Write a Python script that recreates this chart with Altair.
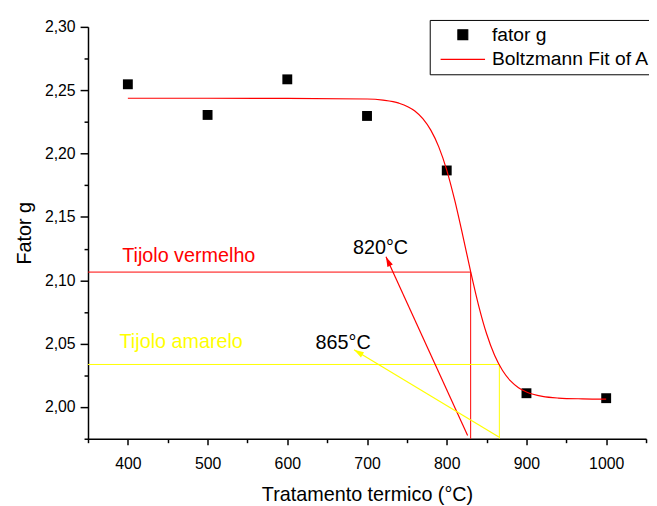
import math
import altair as alt
import pandas as pd

# measured data points
temps = [400, 500, 600, 700, 800, 900, 1000]
fator_g = [2.2547, 2.2305, 2.2586, 2.2297, 2.1867, 2.0109, 2.0070]

# Boltzmann fit curve
fit_x = [400, 500, 600, 700, 720, 740, 760, 770, 780, 790, 800, 810, 820,
         830, 840, 850, 860, 870, 880, 890, 900, 920, 940, 970, 1000]
fit_y = [2.2437, 2.2437, 2.2436, 2.2431, 2.2422, 2.2398, 2.2336, 2.2276,
         2.2185, 2.2053, 2.1870, 2.1632, 2.1357, 2.1069, 2.0801, 2.0578,
         2.0408, 2.0288, 2.0206, 2.0153, 2.0119, 2.0084, 2.0071, 2.0065, 2.0063]

series_names = ["fator g", "Boltzmann Fit of A"]

# guide lines (horizontal + vertical drop lines)
guide_x = [350, 830, 350, 866]
guide_x2 = [830, 830, 866, 866]
guide_y = [2.1065, 1.975, 2.0336, 1.975]
guide_y2 = [2.1065, 2.1065, 2.0336, 2.0336]
guide_col = ["#ff0000", "#ff0000", "#ffff00", "#ffff00"]

# arrows: start (tail) and end (head)
arrow_x = [826.2, 865.4]
arrow_y = [1.9776, 1.9763]
arrow_x2 = [723.8, 683.7]
arrow_y2 = [2.1186, 2.0452]
arrow_col = ["#ff0000", "#ffff00"]

# annotation texts
ann_text = ["Tijolo vermelho", "Tijolo amarelo", "820°C", "865°C"]
ann_x = [476.4, 466.9, 717.0, 670.0]
ann_y = [2.1148, 2.0465, 2.1205, 2.0459]
ann_col = ["#ff0000", "#ffff00", "#000000", "#000000"]

# axis ticks
x_major = [400, 500, 600, 700, 800, 900, 1000]
x_minor = [350, 450, 550, 650, 750, 850, 950, 1050]
y_major = [2.00, 2.05, 2.10, 2.15, 2.20, 2.25, 2.30]
y_minor = [1.975, 2.025, 2.075, 2.125, 2.175, 2.225, 2.275]

X_DOM = [350, 1050]
Y_DOM = [1.975, 2.30]
W, H = 565, 417
FONT = "Liberation Sans"

px_x = W / (X_DOM[1] - X_DOM[0])
px_y = H / (Y_DOM[1] - Y_DOM[0])
arrow_angle = []
for i in range(len(arrow_x)):
    dx = (arrow_x2[i] - arrow_x[i]) * px_x
    dy = (arrow_y2[i] - arrow_y[i]) * px_y
    arrow_angle.append(math.degrees(math.atan2(dx, dy)) % 360)

pts = pd.DataFrame({"t": temps, "g": fator_g, "series": series_names[0]})
fit = pd.DataFrame({"t": fit_x, "g": fit_y, "series": series_names[1]})
guides = pd.DataFrame({"x": guide_x, "x2": guide_x2, "y": guide_y, "y2": guide_y2, "c": guide_col})
arrows = pd.DataFrame({"x": arrow_x, "y": arrow_y, "x2": arrow_x2, "y2": arrow_y2,
                       "c": arrow_col, "a": arrow_angle})
anns = pd.DataFrame({"x": ann_x, "y": ann_y, "text": ann_text, "c": ann_col})

xscale = alt.Scale(domain=X_DOM, nice=False, zero=False)
yscale = alt.Scale(domain=Y_DOM, nice=False, zero=False)

x_axis = alt.Axis(
    title="Tratamento termico (°C)", values=x_major, format="d", orient="bottom",
    tickSize=6, labelPadding=11, titlePadding=14, grid=False, labelOverlap=False,
)
y_axis = alt.Axis(
    title="Fator g", values=y_major, format=".2f", orient="left",
    tickSize=8, labelPadding=5, titlePadding=10, grid=False, labelOverlap=False,
)
x_minor_axis = alt.Axis(
    title=None, values=x_minor, orient="bottom", labels=False, domain=False,
    tickSize=4, grid=False,
)
y_minor_axis = alt.Axis(
    title=None, values=y_minor, orient="left", labels=False, domain=False,
    tickSize=4, grid=False,
)

color_scale = alt.Scale(domain=series_names, range=["black", "red"])
shape_scale = alt.Scale(domain=series_names, range=["square", "stroke"])
size_scale = alt.Scale(domain=series_names, range=[100, 2025])
legend = alt.Legend(
    title=None, orient="none", legendX=346, legendY=-7,
    strokeColor="black", padding=5, labelFontSize=19.5, labelFont=FONT,
    labelColor="black", symbolOffset=5, labelOffset=6, rowPadding=5,
    clipHeight=20, symbolStrokeWidth=1.2, symbolOpacity=1, labelLimit=0,
)

guide_layer = alt.Chart(guides).mark_rule(strokeWidth=1).encode(
    x=alt.X("x:Q", scale=xscale, axis=x_axis),
    x2="x2:Q",
    y=alt.Y("y:Q", scale=yscale, axis=y_axis),
    y2="y2:Q",
    color=alt.Color("c:N", scale=None),
)

minor_layer = alt.Chart(pts).mark_point(opacity=0).encode(
    x=alt.X("t:Q", scale=xscale, axis=x_minor_axis),
    y=alt.Y("g:Q", scale=yscale, axis=y_minor_axis),
)

arrow_lines = alt.Chart(arrows).mark_rule(strokeWidth=1.2).encode(
    x=alt.X("x:Q", scale=xscale, axis=None), x2="x2:Q",
    y=alt.Y("y:Q", scale=yscale, axis=None), y2="y2:Q",
    color=alt.Color("c:N", scale=None),
)

arrow_heads = alt.Chart(arrows).mark_point(
    shape="M0,0L0.6,2L-0.6,2Z", filled=True, size=100, opacity=1
).encode(
    x=alt.X("x2:Q", scale=xscale, axis=None),
    y=alt.Y("y2:Q", scale=yscale, axis=None),
    color=alt.Color("c:N", scale=None),
    angle=alt.Angle("a:Q", scale=None),
)

ann_layer = alt.Chart(anns).mark_text(
    font=FONT, fontSize=20, align="center", baseline="alphabetic"
).encode(
    x=alt.X("x:Q", scale=xscale, axis=None),
    y=alt.Y("y:Q", scale=yscale, axis=None),
    text="text:N",
    color=alt.Color("c:N", scale=None),
)

pt_layer = alt.Chart(pts).mark_point(shape="square", filled=True, opacity=1).encode(
    x=alt.X("t:Q", scale=xscale, axis=None),
    y=alt.Y("g:Q", scale=yscale, axis=None),
    color=alt.Color("series:N", scale=color_scale, legend=legend),
    shape=alt.Shape("series:N", scale=shape_scale, legend=legend),
    size=alt.Size("series:N", scale=size_scale, legend=legend),
)

fit_layer = alt.Chart(fit).mark_line(strokeWidth=1.2, interpolate="monotone").encode(
    x=alt.X("t:Q", scale=xscale, axis=None),
    y=alt.Y("g:Q", scale=yscale, axis=None),
    color=alt.Color("series:N", scale=color_scale, legend=legend),
)

chart = alt.layer(
    guide_layer, minor_layer, arrow_lines, arrow_heads, ann_layer, pt_layer, fit_layer
).resolve_axis(x="independent", y="independent").properties(
    width=W, height=H,
    padding={"left": 81, "top": 16, "right": 3, "bottom": 65},
    autosize=alt.AutoSizeParams(type="none"),
).configure(
    background="white",
    locale={"number": {"decimal": ",", "thousands": ".", "grouping": [3], "currency": ["", ""]}},
).configure_view(stroke=None).configure_axis(
    labelFont=FONT, labelFontSize=16, labelColor="black",
    titleFont=FONT, titleFontSize=20, titleFontWeight="normal", titleColor="black",
    domainColor="black", domainWidth=1.5, tickColor="black", tickWidth=1.5,
)

chart.save("out.html", embed_options={"renderer": "svg", "actions": False})
